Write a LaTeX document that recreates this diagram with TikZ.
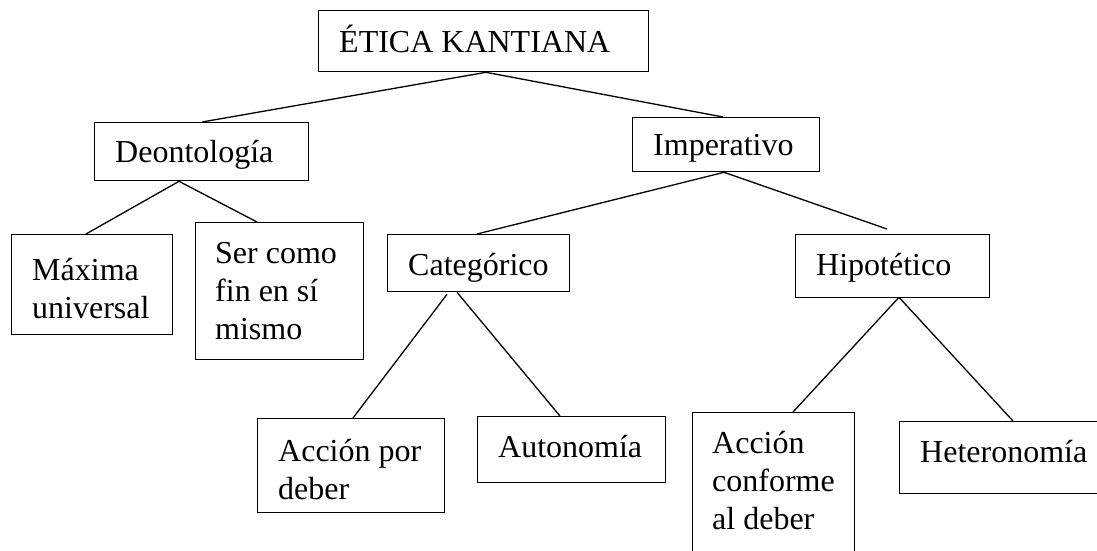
\documentclass[tikz,border=0pt]{standalone}
\usepackage{fontspec}
\setmainfont{Liberation Serif}
\begin{document}
\begin{tikzpicture}[x=1pt,y=-1pt,
  box/.style={draw, line width=1.3pt, rectangle, inner sep=0pt, anchor=north west},
  txt/.style={inner sep=0pt, anchor=base west, font=\fontsize{32}{38}\selectfont},
  conn/.style={line width=1.3pt}]
\useasboundingbox (0,0) rectangle (1097,550);
% boxes
\node[box, minimum width=330pt, minimum height=61pt] (etica) at (318,10) {};
\node[box, minimum width=214pt, minimum height=58pt] (deon) at (94,122) {};
\node[box, minimum width=187pt, minimum height=54pt] (imp) at (632,117) {};
\node[box, minimum width=182pt, minimum height=57pt] (cat) at (387,234) {};
\node[box, minimum width=194pt, minimum height=63pt] (hip) at (795,234) {};
\node[box, minimum width=161pt, minimum height=100pt] (max) at (11,234) {};
\node[box, minimum width=168pt, minimum height=137pt] (ser) at (195,222) {};
\node[box, minimum width=187pt, minimum height=94pt] (acc1) at (257,418) {};
\node[box, minimum width=188pt, minimum height=66pt] (auto) at (477,416) {};
\node[box, minimum width=162pt, minimum height=160pt] (acc2) at (692,412) {};
\node[box, minimum width=206pt, minimum height=72pt] (het) at (899,421) {};
% texts
\node[txt] (tetica) at (339,52) {ÉTICA KANTIANA};
\node[txt] (tdeon) at (115,162) {Deontología};
\node[txt] (timp) at (653,155) {Imperativo};
\node[txt] (tcat) at (408,275) {Categórico};
\node[txt] (thip) at (816,275) {Hipotético};
\node[txt] (tmax) at (32,280) {\parbox[t]{150pt}{\raggedright Máxima\\universal}};
\node[txt] (tser) at (215,263) {\parbox[t]{150pt}{\raggedright Ser como\\fin en sí\\mismo}};
\node[txt] (tacc1) at (278,461) {\parbox[t]{170pt}{\raggedright Acción por\\deber}};
\node[txt] (tauto) at (498,457) {Autonomía};
\node[txt] (tacc2) at (712,453) {\parbox[t]{150pt}{\raggedright Acción\\conforme\\al deber}};
\node[txt] (thet) at (920,462) {Heteronomía};
% connector points
\coordinate (etB) at ([xshift=168pt]etica.south west);
\coordinate (deT) at ([xshift=108pt]deon.north west);
\coordinate (deB) at ([xshift=85pt]deon.south west);
\coordinate (imT) at ([xshift=91pt]imp.north west);
\coordinate (imB) at ([xshift=92pt]imp.south west);
\coordinate (caT) at ([xshift=90pt]cat.north west);
\coordinate (caB1) at ([xshift=60pt,yshift=-2pt]cat.south west);
\coordinate (caB2) at ([xshift=70pt]cat.south west);
\coordinate (hiT) at ([xshift=92pt,yshift=5pt]hip.north west);
\coordinate (hiB) at ([xshift=104pt,yshift=1pt]hip.south west);
\coordinate (maT) at ([xshift=75pt]max.north west);
\coordinate (seT) at ([xshift=62pt]ser.north west);
\coordinate (a1T) at ([xshift=96pt]acc1.north west);
\coordinate (auT) at ([xshift=83pt]auto.north west);
\coordinate (a2T) at ([xshift=101pt]acc2.north west);
\coordinate (heT) at ([xshift=114pt]het.north west);
% connectors
\draw[conn] (etB) -- (deT);
\draw[conn] (etB) -- (imT);
\draw[conn] (deB) -- (maT);
\draw[conn] (deB) -- (seT);
\draw[conn] (imB) -- (caT);
\draw[conn] (imB) -- (hiT);
\draw[conn] (caB1) -- (a1T);
\draw[conn] (caB2) -- (auT);
\draw[conn] (hiB) -- (a2T);
\draw[conn] (hiB) -- (heT);
\end{tikzpicture}
\end{document}
